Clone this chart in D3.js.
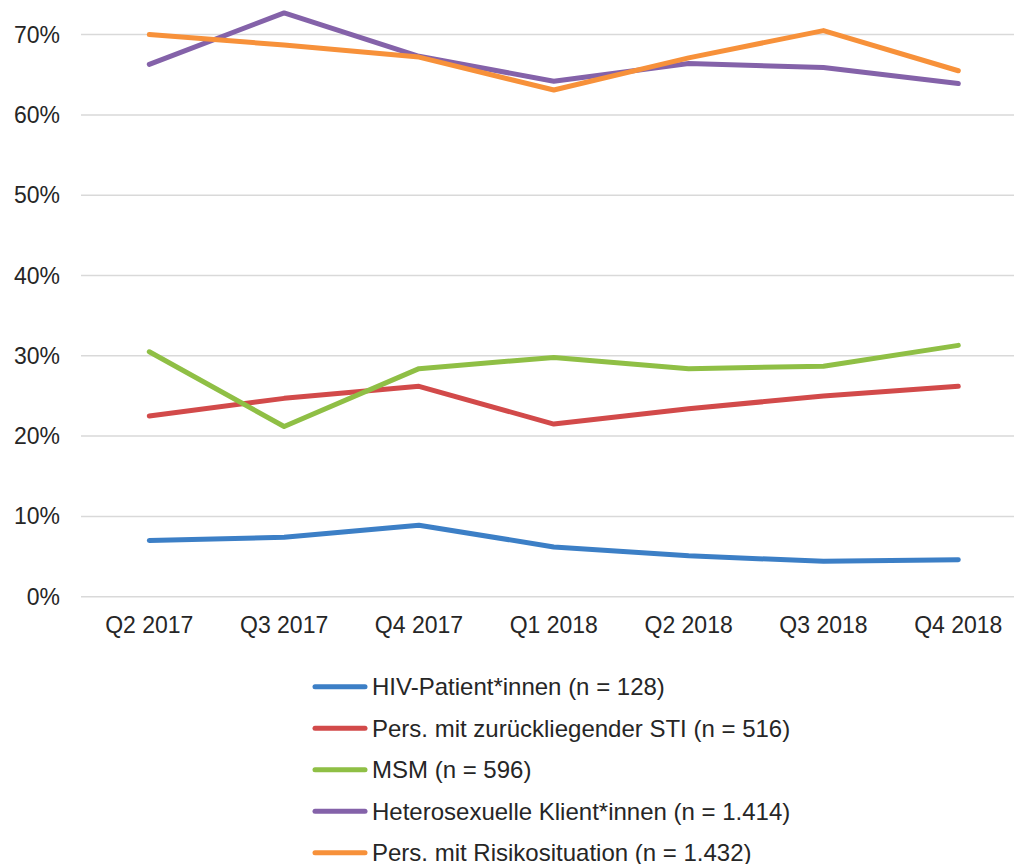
<!DOCTYPE html>
<html>
<head>
<meta charset="utf-8">
<script src="https://cdn.jsdelivr.net/npm/d3@7"></script>
<style>
body { margin: 0; background: #fff; }
text { font-family: "Liberation Sans", Arial, sans-serif; fill: #262626; }
</style>
</head>
<body>
<script>
// data
var quarters = ["Q2 2017", "Q3 2017", "Q4 2017", "Q1 2018", "Q2 2018", "Q3 2018", "Q4 2018"];
var hiv = [7.0, 7.4, 8.9, 6.2, 5.1, 4.4, 4.6];
var sti = [22.5, 24.7, 26.2, 21.5, 23.4, 25.0, 26.2];
var msm = [30.5, 21.2, 28.4, 29.8, 28.4, 28.7, 31.3];
var hetero = [66.3, 72.7, 67.3, 64.2, 66.4, 65.9, 63.9];
var risiko = [70.0, 68.7, 67.2, 63.1, 67.1, 70.5, 65.5];
var seriesNames = ["HIV-Patient*innen (n = 128)", "Pers. mit zurückliegender STI (n = 516)",
  "MSM (n = 596)", "Heterosexuelle Klient*innen (n = 1.414)", "Pers. mit Risikosituation (n = 1.432)"];
var colors = ["#3c7fc6", "#d24a4a", "#8fbf45", "#8462a9", "#f7913a"];
var yTicks = [0, 10, 20, 30, 40, 50, 60, 70];

var series = [hiv, sti, msm, hetero, risiko];

var svg = d3.select("body").append("svg")
  .attr("width", 1014).attr("height", 864);

var x = d3.scalePoint().domain(quarters).range([149.3, 958.3]);
var y = d3.scaleLinear().domain([0, 70]).range([596.7, 34.6]);

// gridlines
svg.append("g").selectAll("line").data(yTicks).enter().append("line")
  .attr("x1", 81).attr("x2", 1014)
  .attr("y1", d => y(d)).attr("y2", d => y(d))
  .style("stroke", "#d9d9d9").style("stroke-width", 1.5);

// y labels
svg.append("g").selectAll("text").data(yTicks).enter().append("text")
  .text(d => d + "%")
  .attr("x", 60).attr("y", d => y(d))
  .attr("dy", "0.35em")
  .attr("text-anchor", "end")
  .style("font-size", "23px");

// x labels
svg.append("g").selectAll("text").data(quarters).enter().append("text")
  .text(d => d)
  .attr("x", d => x(d)).attr("y", 633)
  .attr("text-anchor", "middle")
  .style("font-size", "23px");

var line = d3.line()
  .x((d, i) => x(quarters[i]))
  .y(d => y(d));

series.forEach(function(s, k) {
  svg.append("path")
    .attr("d", line(s))
    .attr("fill", "none")
    .style("stroke", colors[k])
    .style("stroke-width", 5)
    .style("stroke-linecap", "round")
    .style("stroke-linejoin", "round");
});

// legend
var leg = svg.append("g").selectAll("g").data(seriesNames).enter().append("g")
  .attr("transform", (d, i) => "translate(0," + (686.7 + i * 41.5) + ")");
leg.append("line")
  .attr("x1", 315).attr("x2", 365).attr("y1", 0).attr("y2", 0)
  .style("stroke", (d, i) => colors[i])
  .style("stroke-width", 5)
  .style("stroke-linecap", "round");
leg.append("text")
  .text(d => d)
  .attr("x", 372).attr("y", 0).attr("dy", "0.35em")
  .style("font-size", "24px");
</script>
</body>
</html>
